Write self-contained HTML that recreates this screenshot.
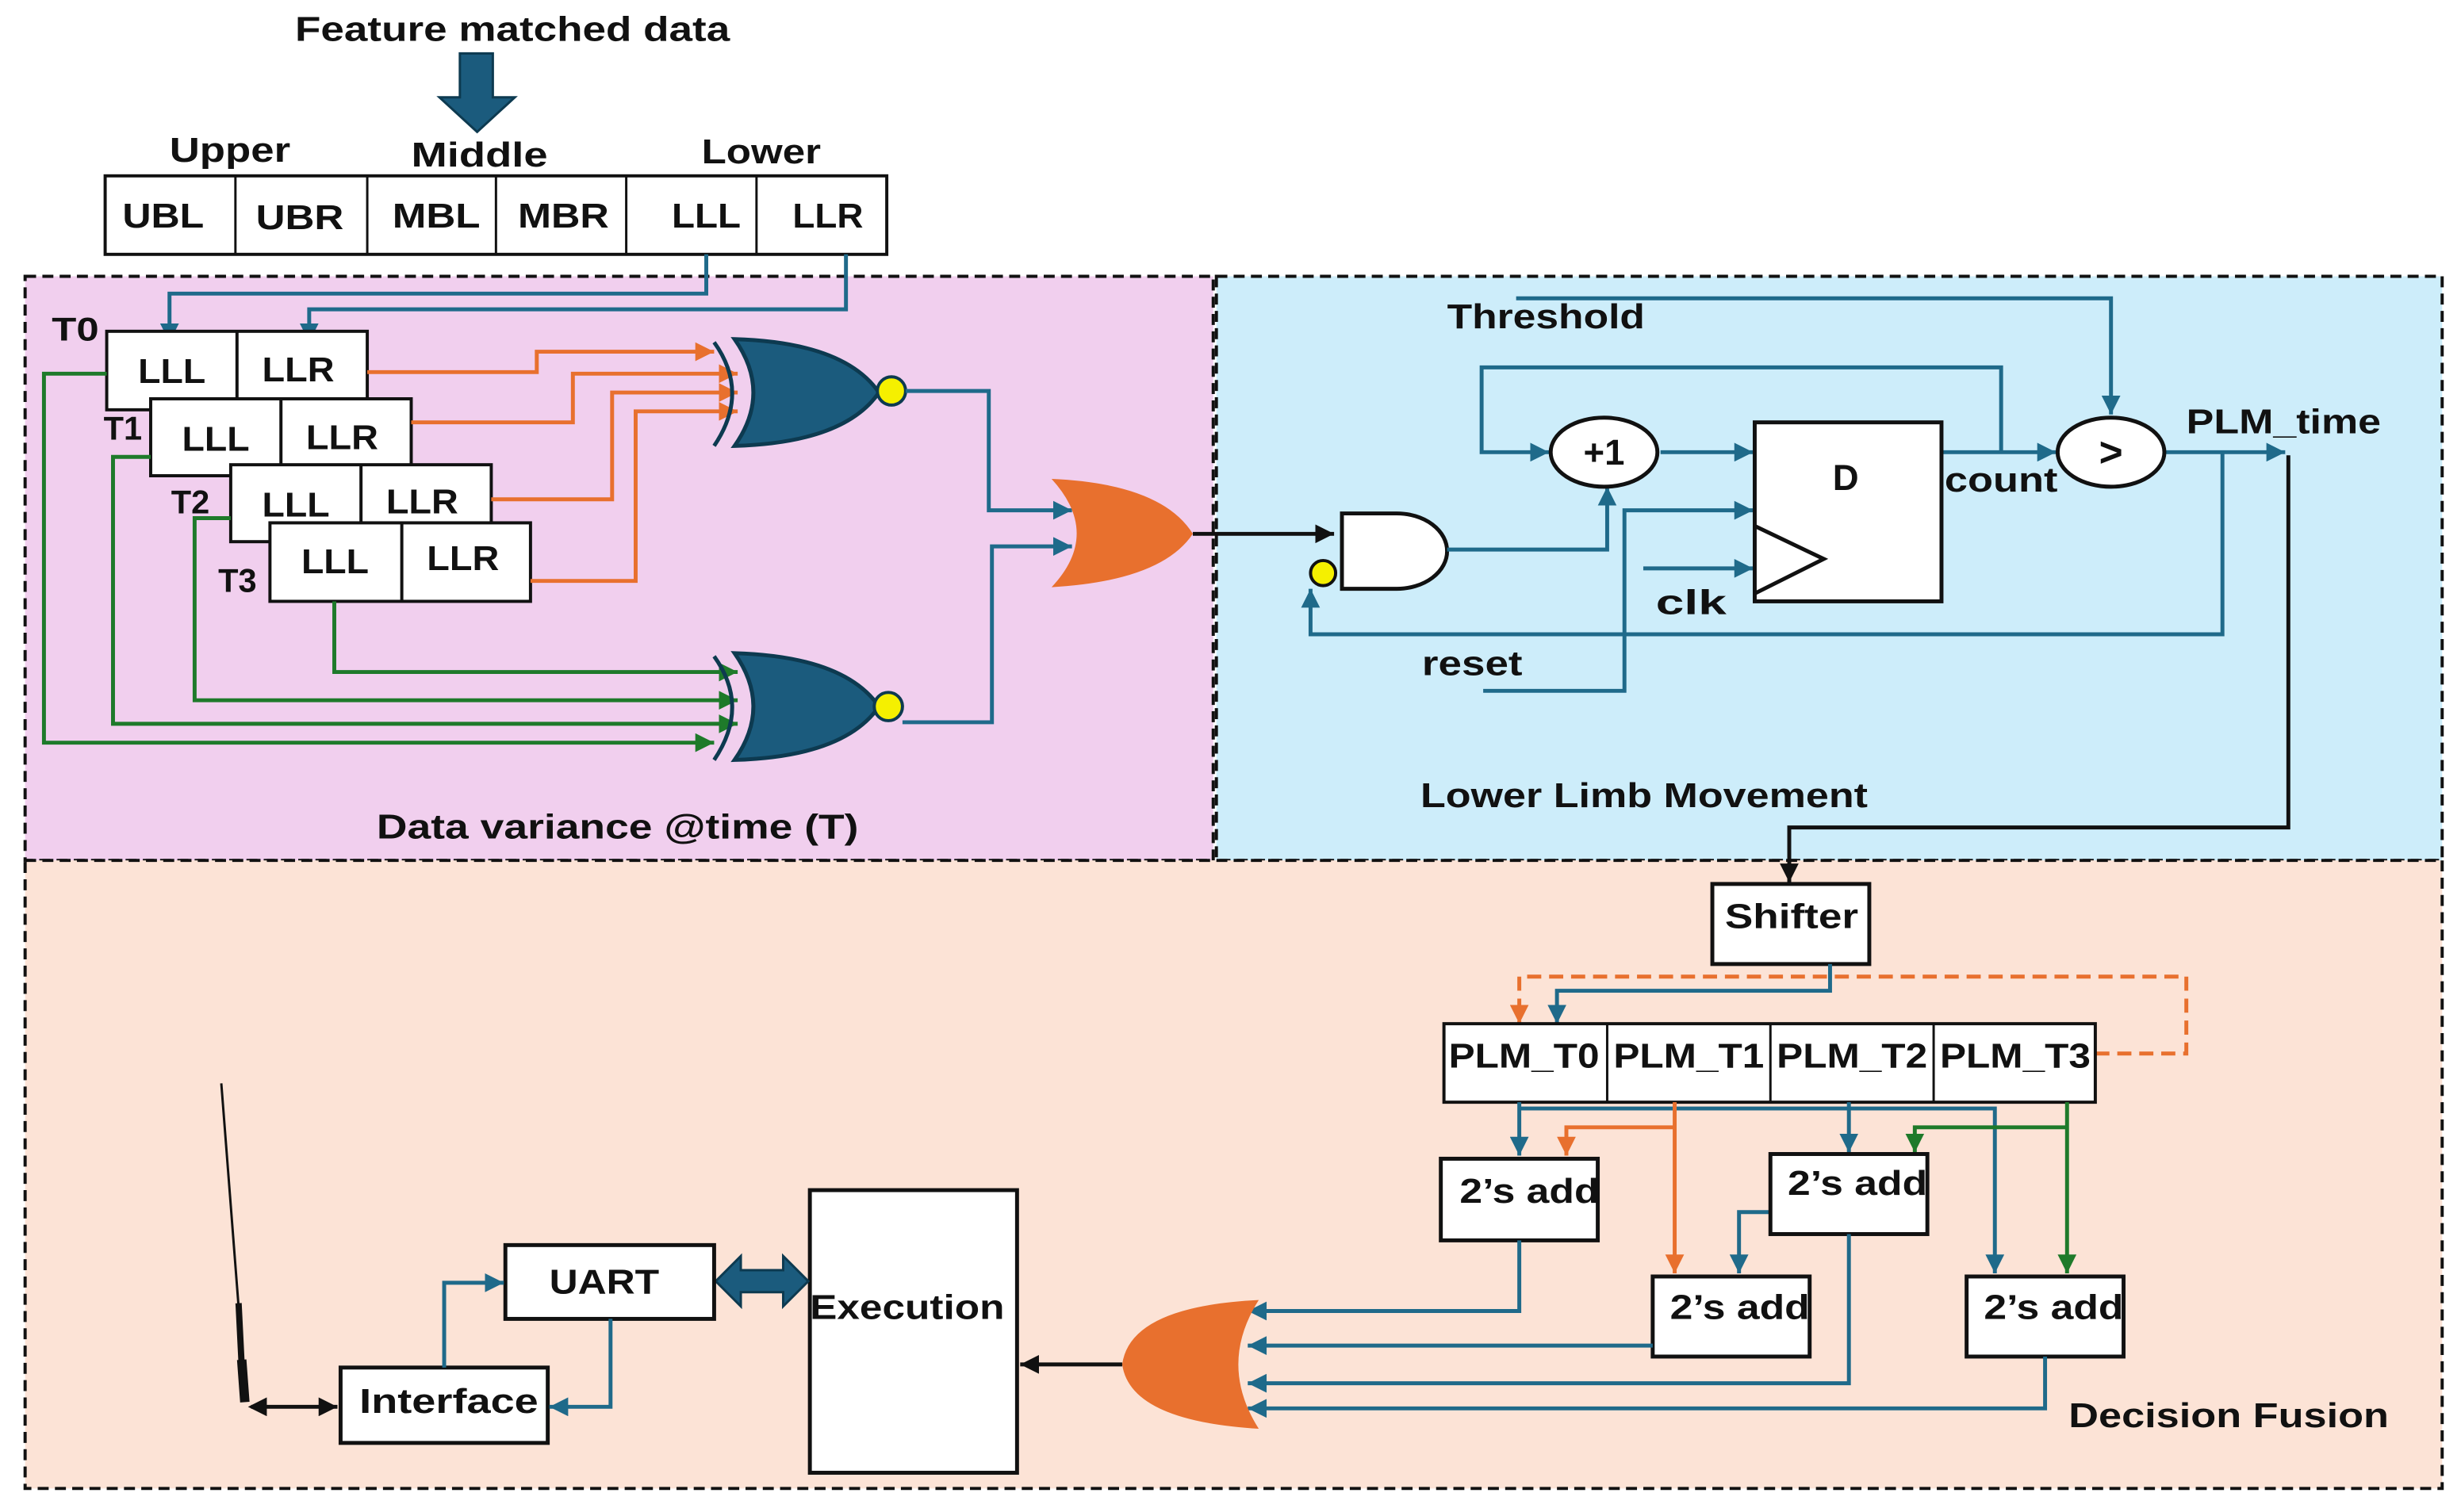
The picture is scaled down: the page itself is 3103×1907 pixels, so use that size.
<!DOCTYPE html>
<html><head><meta charset="utf-8"><style>
html,body{margin:0;padding:0;background:#fff;}
svg{display:block;}
text{font-family:"Liberation Sans",sans-serif;font-weight:bold;fill:#111;}
</style></head><body>
<svg width="3103" height="1907" viewBox="0 0 1568 963" preserveAspectRatio="none" xmlns="http://www.w3.org/2000/svg">
<defs>
<marker id="ab" markerUnits="userSpaceOnUse" markerWidth="14" markerHeight="12" refX="12" refY="6" orient="auto"><path d="M0,0 L12,6 L0,12 z" fill="#1f6a8a"/></marker>
<marker id="ao" markerUnits="userSpaceOnUse" markerWidth="14" markerHeight="12" refX="12" refY="6" orient="auto"><path d="M0,0 L12,6 L0,12 z" fill="#e8702e"/></marker>
<marker id="ag" markerUnits="userSpaceOnUse" markerWidth="14" markerHeight="12" refX="12" refY="6" orient="auto"><path d="M0,0 L12,6 L0,12 z" fill="#1e7a2a"/></marker>
<marker id="ak" markerUnits="userSpaceOnUse" markerWidth="14" markerHeight="12" refX="12" refY="6" orient="auto"><path d="M0,0 L12,6 L0,12 z" fill="#111"/></marker>
<marker id="aks" markerUnits="userSpaceOnUse" markerWidth="14" markerHeight="12" refX="2" refY="6" orient="auto"><path d="M12,0 L0,6 L12,12 z" fill="#111"/></marker>
</defs>
<rect width="1568" height="963" fill="#fff"/>
<rect x="16" y="176" width="757" height="372" fill="#f1cfee" stroke="#111" stroke-width="2" stroke-dasharray="7,4"/>
<rect x="775" y="176" width="781" height="372" fill="#cdedfa" stroke="#111" stroke-width="2" stroke-dasharray="7,4"/>
<rect x="16" y="548" width="1540" height="400" fill="#fce3d6" stroke="#111" stroke-width="2" stroke-dasharray="7,4"/>

<text x="188" y="26" font-size="22" textLength="277" lengthAdjust="spacingAndGlyphs">Feature matched data</text>
<path d="M293,34 H314 V62 H328 L304,84 L280,62 H293 Z" fill="#1b5b7d" stroke="#0d3a50" stroke-width="1.5"/>
<text x="108" y="103" font-size="22" textLength="77" lengthAdjust="spacingAndGlyphs">Upper</text>
<text x="262" y="106" font-size="22" textLength="87" lengthAdjust="spacingAndGlyphs">Middle</text>
<text x="447" y="104" font-size="22" textLength="76" lengthAdjust="spacingAndGlyphs">Lower</text>
<rect x="67" y="112" width="498" height="50" fill="#fff" stroke="#111" stroke-width="2"/>
<g stroke="#111" stroke-width="1.5"><line x1="150" y1="112" x2="150" y2="162"/><line x1="234" y1="112" x2="234" y2="162"/><line x1="316" y1="112" x2="316" y2="162"/><line x1="399" y1="112" x2="399" y2="162"/><line x1="482" y1="112" x2="482" y2="162"/></g>
<g font-size="22" lengthAdjust="spacingAndGlyphs">
<text x="78" y="145" textLength="52" lengthAdjust="spacingAndGlyphs">UBL</text>
<text x="163" y="146" textLength="56" lengthAdjust="spacingAndGlyphs">UBR</text>
<text x="250" y="145" textLength="56" lengthAdjust="spacingAndGlyphs">MBL</text>
<text x="330" y="145" textLength="58" lengthAdjust="spacingAndGlyphs">MBR</text>
<text x="428" y="145" textLength="44" lengthAdjust="spacingAndGlyphs">LLL</text>
<text x="505" y="145" textLength="45" lengthAdjust="spacingAndGlyphs">LLR</text>
</g>

<g stroke="#1f6a8a" stroke-width="2.5" fill="none">
<path d="M450,162 V187 H108 V218" marker-end="url(#ab)"/>
<path d="M539,162 V197 H197 V218" marker-end="url(#ab)"/>
</g>
<g font-size="21">
<text x="33" y="217" textLength="30" lengthAdjust="spacingAndGlyphs">T0</text><text x="66" y="280">T1</text><text x="109" y="327">T2</text><text x="139" y="377">T3</text>
</g>
<g stroke="#111" stroke-width="2" fill="#fff">
<rect x="68" y="211" width="166" height="50"/><line x1="151" y1="211" x2="151" y2="261"/>
<rect x="96" y="254" width="166" height="49"/><line x1="179" y1="254" x2="179" y2="303"/>
<rect x="147" y="296" width="166" height="49"/><line x1="230" y1="296" x2="230" y2="345"/>
<rect x="172" y="333" width="166" height="50"/><line x1="256" y1="333" x2="256" y2="383"/>
</g>
<g font-size="22">
<text x="88" y="244" textLength="43" lengthAdjust="spacingAndGlyphs">LLL</text><text x="167" y="243" textLength="46" lengthAdjust="spacingAndGlyphs">LLR</text>
<text x="116" y="287" textLength="43" lengthAdjust="spacingAndGlyphs">LLL</text><text x="195" y="286" textLength="46" lengthAdjust="spacingAndGlyphs">LLR</text>
<text x="167" y="329" textLength="43" lengthAdjust="spacingAndGlyphs">LLL</text><text x="246" y="327" textLength="46" lengthAdjust="spacingAndGlyphs">LLR</text>
<text x="192" y="365" textLength="43" lengthAdjust="spacingAndGlyphs">LLL</text><text x="272" y="363" textLength="46" lengthAdjust="spacingAndGlyphs">LLR</text>
</g>
<g stroke="#e8702e" stroke-width="2.5" fill="none">
<path d="M234,237 H342 V224 H455" marker-end="url(#ao)"/>
<path d="M262,269 H365 V238 H470" marker-end="url(#ao)"/>
<path d="M313,318 H390 V250 H470" marker-end="url(#ao)"/>
<path d="M338,370 H405 V262 H470" marker-end="url(#ao)"/>
</g>
<g stroke="#1e7a2a" stroke-width="2.5" fill="none">
<path d="M213,383 V428 H470" marker-end="url(#ag)"/>
<path d="M147,330 H124 V446 H470" marker-end="url(#ag)"/>
<path d="M96,291 H72 V461 H470" marker-end="url(#ag)"/>
<path d="M68,238 H28 V473 H455" marker-end="url(#ag)"/>
</g>
<g stroke="#0d3a50" stroke-width="2.5">
<path d="M455,218 Q478,250 455,284" fill="none"/>
<path d="M468,216 Q492,250 468,284 Q538,282 560,250 Q538,218 468,216 Z" fill="#1b5b7d"/>
<circle cx="568" cy="249" r="9" fill="#f5f000" stroke-width="2"/>
<path d="M455,418 Q478,450 455,484" fill="none"/>
<path d="M468,416 Q492,450 468,484 Q538,482 560,450 Q538,418 468,416 Z" fill="#1b5b7d"/>
<circle cx="566" cy="450" r="9" fill="#f5f000" stroke-width="2"/>
</g>
<g stroke="#1f6a8a" stroke-width="2.5" fill="none">
<path d="M577,249 H630 V325 H683" marker-end="url(#ab)"/>
<path d="M575,460 H632 V348 H683" marker-end="url(#ab)"/>
</g>
<path d="M670,305 Q702,340 670,374 Q740,370 760,340 Q740,308 670,305 Z" fill="#e8702e"/>
<text x="240" y="534" font-size="22" textLength="307" lengthAdjust="spacingAndGlyphs">Data variance @time (T)</text>

<line x1="760" y1="340" x2="850" y2="340" stroke="#111" stroke-width="2.5" marker-end="url(#ak)"/>
<path d="M855,327 H890 A32,24 0 0 1 890,375 H855 Z" fill="#fff" stroke="#111" stroke-width="2.5"/>
<circle cx="843" cy="365" r="8" fill="#f5f000" stroke="#111" stroke-width="2"/>
<g stroke="#1f6a8a" stroke-width="2.5" fill="none">
<path d="M922,350 H1024 V310" marker-end="url(#ab)"/>
<path d="M1275,288 V234 H944 V288 H987" marker-end="url(#ab)"/>
<path d="M1058,288 H1117" marker-end="url(#ab)"/>
<path d="M945,440 H1035 V325 H1117" marker-end="url(#ab)"/>
<path d="M1047,362 H1117" marker-end="url(#ab)"/>
<path d="M1237,288 H1310" marker-end="url(#ab)"/>
<path d="M966,190 H1345 V264" marker-end="url(#ab)"/>
<path d="M1379,288 H1456" marker-end="url(#ab)"/>
<path d="M1416,288 V404 H835 V375" marker-end="url(#ab)"/>
</g>
<ellipse cx="1022" cy="288" rx="34" ry="22" fill="#fff" stroke="#111" stroke-width="2.5"/>
<text x="1022" y="296" font-size="23" text-anchor="middle">+1</text>
<rect x="1118" y="269" width="119" height="114" fill="#fff" stroke="#111" stroke-width="2.5"/>
<path d="M1118,335 L1162,356 L1118,378" fill="none" stroke="#111" stroke-width="2.5"/>
<text x="1176" y="312" font-size="23" text-anchor="middle">D</text>
<ellipse cx="1345" cy="288" rx="34" ry="22" fill="#fff" stroke="#111" stroke-width="2.5"/>
<text x="1345" y="297" font-size="26" text-anchor="middle">&gt;</text>
<g font-size="22">
<text x="922" y="209" textLength="126" lengthAdjust="spacingAndGlyphs">Threshold</text>
<text x="1393" y="276" textLength="124" lengthAdjust="spacingAndGlyphs">PLM_time</text>
<text x="1239" y="313" textLength="72" lengthAdjust="spacingAndGlyphs">count</text>
<text x="1055" y="391" textLength="45" lengthAdjust="spacingAndGlyphs">clk</text>
<text x="906" y="430" textLength="64" lengthAdjust="spacingAndGlyphs">reset</text>
<text x="905" y="514" textLength="285" lengthAdjust="spacingAndGlyphs">Lower Limb Movement</text>
</g>
<path d="M1458,290 V527 H1140 V562" fill="none" stroke="#111" stroke-width="2.5" marker-end="url(#ak)"/>

<rect x="1091" y="563" width="100" height="51" fill="#fff" stroke="#111" stroke-width="2.5"/>
<text x="1099" y="591" font-size="22" textLength="85" lengthAdjust="spacingAndGlyphs">Shifter</text>
<path d="M1335,671 H1393 V622 H968 V652" fill="none" stroke="#e8702e" stroke-width="2.5" stroke-dasharray="9,5" marker-end="url(#ao)"/>
<path d="M1166,614 V631 H992 V652" fill="none" stroke="#1f6a8a" stroke-width="2.5" marker-end="url(#ab)"/>
<rect x="920" y="652" width="415" height="50" fill="#fff" stroke="#111" stroke-width="2"/>
<g stroke="#111" stroke-width="1.5"><line x1="1024" y1="652" x2="1024" y2="702"/><line x1="1128" y1="652" x2="1128" y2="702"/><line x1="1232" y1="652" x2="1232" y2="702"/></g>
<g font-size="22">
<text x="923" y="680" textLength="96" lengthAdjust="spacingAndGlyphs">PLM_T0</text>
<text x="1028" y="680" textLength="96" lengthAdjust="spacingAndGlyphs">PLM_T1</text>
<text x="1132" y="680" textLength="96" lengthAdjust="spacingAndGlyphs">PLM_T2</text>
<text x="1236" y="680" textLength="96" lengthAdjust="spacingAndGlyphs">PLM_T3</text>
</g>
<g stroke="#1f6a8a" stroke-width="2.5" fill="none">
<path d="M968,706 H1271 V811" marker-end="url(#ab)"/>
<path d="M968,702 V736" marker-end="url(#ab)"/>
<path d="M1178,702 V734" marker-end="url(#ab)"/>
<path d="M1178,734 V772 H1108 V811" marker-end="url(#ab)"/>
</g>
<g stroke="#e8702e" stroke-width="2.5" fill="none">
<path d="M1067,702 V811" marker-end="url(#ao)"/>
<path d="M1067,718 H998 V736" marker-end="url(#ao)"/>
</g>
<g stroke="#1e7a2a" stroke-width="2.5" fill="none">
<path d="M1317,702 V811" marker-end="url(#ag)"/>
<path d="M1317,718 H1220 V734" marker-end="url(#ag)"/>
</g>
<g stroke="#111" stroke-width="2.5" fill="#fff">
<rect x="918" y="738" width="100" height="52"/>
<rect x="1128" y="735" width="100" height="51"/>
<rect x="1053" y="813" width="100" height="51"/>
<rect x="1253" y="813" width="100" height="51"/>
</g>
<g font-size="22">
<text x="930" y="766" textLength="89" lengthAdjust="spacingAndGlyphs">2’s add</text>
<text x="1139" y="761" textLength="89" lengthAdjust="spacingAndGlyphs">2’s add</text>
<text x="1064" y="840" textLength="89" lengthAdjust="spacingAndGlyphs">2’s add</text>
<text x="1264" y="840" textLength="89" lengthAdjust="spacingAndGlyphs">2’s add</text>
</g>
<g stroke="#1f6a8a" stroke-width="2.5" fill="none">
<path d="M968,790 V835 H795" marker-end="url(#ab)"/>
<path d="M1053,857 H795" marker-end="url(#ab)"/>
<path d="M1178,786 V881 H795" marker-end="url(#ab)"/>
<path d="M1303,864 V897 H795" marker-end="url(#ab)"/>
</g>
<path d="M802,828 Q776,869 802,910 Q720,905 715,869 Q720,832 802,828 Z" fill="#e8702e"/>
<line x1="715" y1="869" x2="650" y2="869" stroke="#111" stroke-width="2.5" marker-end="url(#ak)"/>
<rect x="516" y="758" width="132" height="180" fill="#fff" stroke="#111" stroke-width="2.5"/>
<text x="516" y="840" font-size="22" textLength="124" lengthAdjust="spacingAndGlyphs">Execution</text>
<path d="M456,816 L472,800 V809 H499 V800 L515,816 L499,832 V823 H472 V832 Z" fill="#1b5b7d" stroke="#0d3a50" stroke-width="1.5"/>
<rect x="322" y="793" width="133" height="47" fill="#fff" stroke="#111" stroke-width="2.5"/>
<text x="350" y="824" font-size="22" textLength="70" lengthAdjust="spacingAndGlyphs">UART</text>
<rect x="217" y="871" width="132" height="48" fill="#fff" stroke="#111" stroke-width="2.5"/>
<text x="229" y="900" font-size="22" textLength="114" lengthAdjust="spacingAndGlyphs">Interface</text>
<g stroke="#1f6a8a" stroke-width="2.5" fill="none">
<path d="M283,871 V817 H321" marker-end="url(#ab)"/>
<path d="M389,840 V896 H350" marker-end="url(#ab)"/>
</g>
<line x1="141" y1="690" x2="152" y2="832" stroke="#111" stroke-width="1.5"/>
<line x1="152" y1="830" x2="154" y2="870" stroke="#111" stroke-width="4"/>
<line x1="154" y1="866" x2="156" y2="893" stroke="#111" stroke-width="6"/>
<line x1="160" y1="896" x2="215" y2="896" stroke="#111" stroke-width="2.5" marker-start="url(#aks)" marker-end="url(#ak)"/>
<text x="1318" y="909" font-size="22" textLength="204" lengthAdjust="spacingAndGlyphs">Decision Fusion</text>
</svg>
</body></html>
